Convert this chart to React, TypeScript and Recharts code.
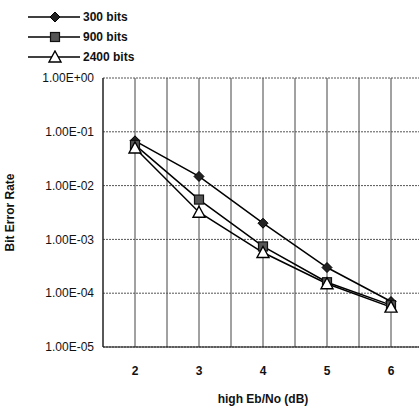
import React from 'react';
import {
  LineChart,
  Line,
  XAxis,
  YAxis,
  CartesianGrid,
  Label,
} from 'recharts';

const ebNo = [2, 3, 4, 5, 6];
const ber300 = [0.068, 0.0148, 0.002, 0.0003, 0.00007];
const ber900 = [0.057, 0.0055, 0.00074, 0.00016, 0.00006];
const ber2400 = [0.05, 0.0032, 0.00057, 0.00015, 0.000055];

const xTicks = [1.5, 2, 2.5, 3, 3.5, 4, 4.5, 5, 5.5, 6, 6.5];
const yTicks = [1, 0.1, 0.01, 0.001, 0.0001, 0.00001];

const seriesNames = ['300 bits', '900 bits', '2400 bits'];

const data = ebNo.map((x, i) => ({
  x,
  b300: ber300[i],
  b900: ber900[i],
  b2400: ber2400[i],
}));

const FONT = 'Arial, "Liberation Sans", sans-serif';

// 1.00E-01 style labels
const formatSci = (v: number) => {
  const exp = Math.round(Math.log10(v));
  const sign = exp < 0 ? '-' : '+';
  const abs = Math.abs(exp).toString().padStart(2, '0');
  return `1.00E${sign}${abs}`;
};

const Diamond = ({ cx, cy }: any) => (
  <path
    d={`M${cx},${cy - 5} L${cx + 5},${cy} L${cx},${cy + 5} L${cx - 5},${cy} Z`}
    fill="#222"
    stroke="#000"
    strokeWidth={1}
  />
);

const Square = ({ cx, cy }: any) => (
  <rect x={cx - 4.5} y={cy - 4.5} width={9} height={9} fill="#555" stroke="#111" strokeWidth={1.2} />
);

const Triangle = ({ cx, cy }: any) => (
  <path
    d={`M${cx},${cy - 6} L${cx + 6},${cy + 5} L${cx - 6},${cy + 5} Z`}
    fill="#fff"
    stroke="#000"
    strokeWidth={1.4}
  />
);

const markers = [Diamond, Square, Triangle];

const ChartLegend = () => (
  <div
    style={{
      position: 'absolute',
      left: 26,
      top: 7,
      fontFamily: FONT,
      fontSize: 12,
      fontWeight: 'bold',
      color: '#111',
    }}
  >
    {seriesNames.map((name, i) => {
      const M = markers[i];
      return (
        <div key={name} style={{ display: 'flex', alignItems: 'center', height: 20 }}>
          <svg width={56} height={14}>
            <line x1={2} y1={7} x2={54} y2={7} stroke="#000" strokeWidth={1.5} />
            <M cx={29} cy={7} />
          </svg>
          <span style={{ marginLeft: 1 }}>{name}</span>
        </div>
      );
    })}
  </div>
);

const App = () => {
  return (
    <div
      style={{
        position: 'fixed',
        left: 0,
        top: 0,
        width: 419,
        height: 409,
        overflow: 'hidden',
        background: '#fff',
      }}
    >
      <LineChart
        width={430}
        height={409}
        data={data}
        margin={{ top: 78, right: 7, left: 0, bottom: 4 }}
      >
        <CartesianGrid vertical={true} horizontal={false} stroke="#444" strokeWidth={1} />
        <CartesianGrid vertical={false} horizontal={true} stroke="#555" strokeDasharray="2 1" />
        <XAxis
          dataKey="x"
          type="number"
          domain={[1.5, 6.5]}
          ticks={xTicks}
          allowDataOverflow
          tickFormatter={(v) => (Number.isInteger(v) ? String(v) : '')}
          tickSize={0}
          tickMargin={19}
          height={58}
          stroke="#111"
          tick={{ fill: '#111', fontSize: 12, fontFamily: FONT, fontWeight: 'bold' }}
        >
          <Label
            value="high Eb/No (dB)"
            position="insideBottom"
            offset={2}
            style={{ fill: '#111', fontSize: 12, fontFamily: FONT, fontWeight: 'bold' }}
          />
        </XAxis>
        <YAxis
          scale="log"
          domain={[0.00001, 1]}
          ticks={yTicks}
          allowDataOverflow
          tickFormatter={formatSci}
          tickSize={0}
          tickMargin={9}
          width={103}
          stroke="#111"
          tick={{ fill: '#111', fontSize: 12, fontFamily: FONT }}
        >
          <Label
            value="Bit Error Rate"
            angle={-90}
            position="insideLeft"
            offset={10}
            style={{ textAnchor: 'middle', fill: '#111', fontSize: 12, fontFamily: FONT, fontWeight: 'bold' }}
          />
        </YAxis>
        <Line dataKey="b300" stroke="#000" strokeWidth={1.5} dot={<Diamond />} isAnimationActive={false} />
        <Line dataKey="b900" stroke="#000" strokeWidth={1.5} dot={<Square />} isAnimationActive={false} />
        <Line dataKey="b2400" stroke="#000" strokeWidth={1.5} dot={<Triangle />} isAnimationActive={false} />
      </LineChart>
      <ChartLegend />
    </div>
  );
};

export default App;
